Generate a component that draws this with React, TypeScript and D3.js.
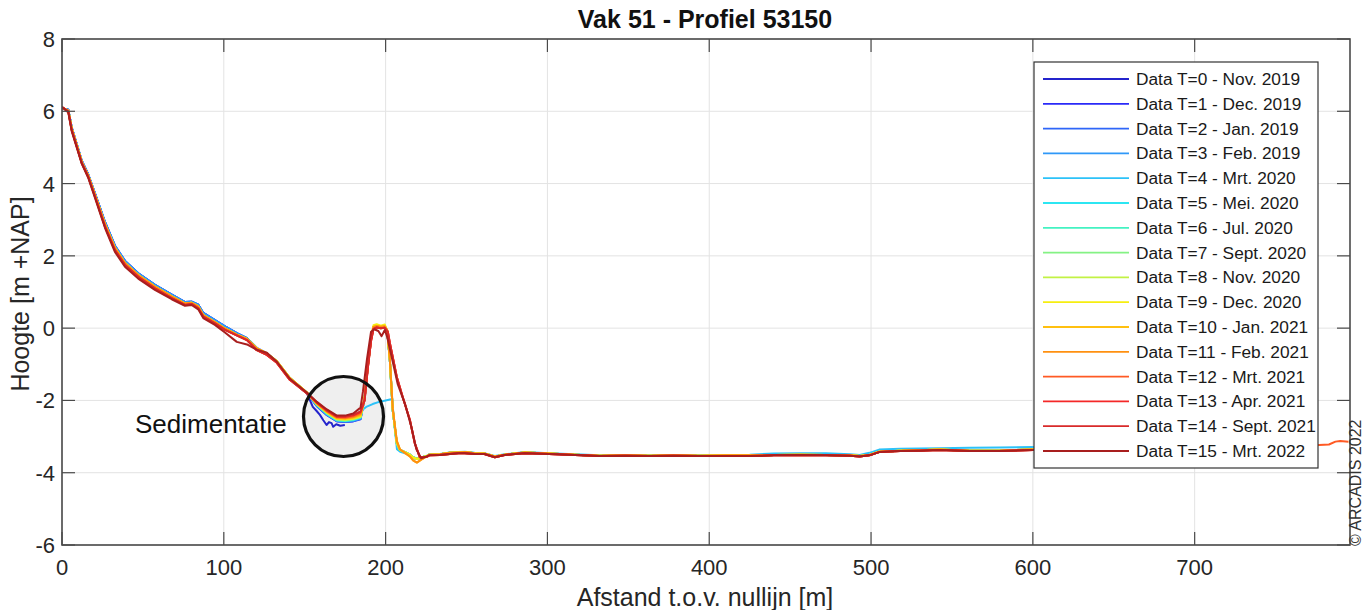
import React from "react";
import * as d3 from "d3";

const W = 1365;
const H = 610;
const PL = 62, PR = 1350, PT = 39, PB = 545;

const xDomain = [0, 796];
const yDomain = [-6, 8];
const xTicks = [0, 100, 200, 300, 400, 500, 600, 700];
const yTicks = [-6, -4, -2, 0, 2, 4, 6, 8];

const seriesLabels = [
  "Data T=0 - Nov. 2019",
  "Data T=1 - Dec. 2019",
  "Data T=2 - Jan. 2019",
  "Data T=3 - Feb. 2019",
  "Data T=4 - Mrt. 2020",
  "Data T=5 - Mei. 2020",
  "Data T=6 - Jul. 2020",
  "Data T=7 - Sept. 2020",
  "Data T=8 - Nov. 2020",
  "Data T=9 - Dec. 2020",
  "Data T=10 - Jan. 2021",
  "Data T=11 - Feb. 2021",
  "Data T=12 - Mrt. 2021",
  "Data T=13 - Apr. 2021",
  "Data T=14 - Sept. 2021",
  "Data T=15 - Mrt. 2022",
];
const seriesColors = [
  "#2424cc", "#2a2af8", "#2f66f8", "#2f98f8", "#2cc2f8", "#2ce6f2",
  "#44f2c2", "#84f284", "#c2f244", "#f6ee10", "#ffc010", "#ff9010",
  "#ff5a24", "#f42828", "#d82a2a", "#a81e1e",
];

// upper slope (shared distances)
const slopeX = [0, 3.9, 6, 12.2, 16.2, 20.4, 26.6, 32.7, 38.9, 47.1, 57.4, 67.8, 76, 80.1, 84.2, 87.3, 94.5, 100.7, 108, 114.3, 120.4, 126.6, 132.8, 140.8, 151.3];
const slopeEarlyY = [6.08, 6.04, 5.55, 4.63, 4.25, 3.72, 2.93, 2.28, 1.86, 1.52, 1.2, 0.93, 0.72, 0.73, 0.65, 0.42, 0.22, 0.05, -0.14, -0.28, -0.55, -0.7, -0.93, -1.4, -1.8];
const slopeMidY = [6.1, 6.02, 5.52, 4.6, 4.22, 3.68, 2.87, 2.22, 1.8, 1.47, 1.15, 0.88, 0.68, 0.7, 0.6, 0.36, 0.17, -0.01, -0.18, -0.3, -0.56, -0.7, -0.92, -1.38, -1.78];
const slopeLateY = [6.12, 5.99, 5.48, 4.57, 4.19, 3.64, 2.81, 2.16, 1.75, 1.42, 1.1, 0.83, 0.64, 0.67, 0.55, 0.32, 0.13, -0.05, -0.2, -0.33, -0.61, -0.74, -0.96, -1.43, -1.8];
const slopeT15Y = [6.12, 5.97, 5.45, 4.55, 4.16, 3.6, 2.77, 2.11, 1.7, 1.37, 1.06, 0.8, 0.62, 0.64, 0.52, 0.28, 0.09, -0.12, -0.38, -0.45, -0.6, -0.68, -0.93, -1.4, -1.78];

// T=0 ends in the sedimentation pit
const t0X = [155, 157.5, 159.4, 161.5, 163.5, 165, 166.6, 167.6, 169.5, 172, 174.8];
const t0Y = [-2.18, -2.3, -2.4, -2.55, -2.68, -2.6, -2.63, -2.73, -2.66, -2.7, -2.68];

// sedimentation pit, one row per series (T=1..T=15)
const troughX = [157.5, 163.7, 169.9, 175, 180, 184.5];
const troughY = [
  [],
  [-2.16, -2.41, -2.58, -2.6, -2.58, -2.52],
  [-2.15, -2.4, -2.57, -2.59, -2.57, -2.51],
  [-2.14, -2.39, -2.56, -2.58, -2.56, -2.5],
  [-2.13, -2.38, -2.55, -2.56, -2.48, -2.3],
  [-2.12, -2.37, -2.55, -2.57, -2.54, -2.48],
  [-2.12, -2.36, -2.54, -2.56, -2.53, -2.47],
  [-2.11, -2.35, -2.53, -2.55, -2.52, -2.46],
  [-2.1, -2.34, -2.52, -2.54, -2.51, -2.45],
  [-2.1, -2.33, -2.51, -2.52, -2.5, -2.43],
  [-2.09, -2.32, -2.5, -2.51, -2.48, -2.41],
  [-2.08, -2.31, -2.48, -2.49, -2.46, -2.38],
  [-2.07, -2.29, -2.46, -2.47, -2.43, -2.34],
  [-2.06, -2.28, -2.45, -2.45, -2.41, -2.32],
  [-2.05, -2.27, -2.44, -2.44, -2.4, -2.3],
  [-2.04, -2.25, -2.42, -2.42, -2.36, -2.2],
];

// dune peak
const peakX = [187, 189, 191, 192.5, 194.5, 197, 199.5];
const peakMidY = [-1.95, -1.05, -0.3, 0.03, 0.06, 0.04, 0.05];
const peakHighY = [-1.9, -1.0, -0.25, 0.08, 0.11, 0.07, 0.1];
const peakLateY = [-2.0, -1.1, -0.35, -0.02, 0.02, 0.0, 0.01];
const peakT15X = [186, 188.5, 191, 193, 195.5, 197.5, 199.5];
const peakT15Y = [-1.75, -0.85, -0.1, -0.03, -0.08, -0.22, -0.05];

// seaward fall of the dune
const fallFastX = [201, 202.6, 204.4, 206.9, 208.8, 211.9, 215, 217, 219.3, 222, 225.4];
const fallFastY = [-0.08, -0.88, -2.27, -3.18, -3.37, -3.43, -3.5, -3.58, -3.62, -3.58, -3.54];
const fallOrangeY = [-0.06, -0.85, -2.22, -3.12, -3.35, -3.45, -3.55, -3.66, -3.72, -3.64, -3.55];
const fallSlowX = [201.4, 202.6, 206.9, 210.6, 215, 218, 221.1, 225.4];
const fallSlowY = [-0.11, -0.41, -1.35, -1.91, -2.54, -3.18, -3.57, -3.56];
const fallT15X = [201, 203.5, 207.5, 212, 216, 219, 222, 225.4];
const fallT15Y = [-0.25, -0.75, -1.55, -2.1, -2.75, -3.35, -3.6, -3.55];

// T=4 has no dune
const t4MidX = [188, 192, 196, 200, 204, 205.5, 207, 209, 212, 216, 220, 225.4];
const t4MidY = [-2.18, -2.1, -2.04, -2.0, -1.96, -2.7, -3.35, -3.42, -3.46, -3.55, -3.62, -3.55];

// flat seabed
const flatX = [227, 233.5, 239.7, 245, 249, 255, 261, 267.5, 273.6, 280, 286, 301, 317, 332, 348, 363, 378, 394, 410, 425, 440, 456, 472, 487, 493, 499, 505, 518, 530, 542, 561, 579, 600, 612];
const flatLateY = [-3.52, -3.51, -3.48, -3.46, -3.46, -3.48, -3.48, -3.57, -3.51, -3.48, -3.46, -3.48, -3.51, -3.54, -3.53, -3.54, -3.53, -3.54, -3.54, -3.54, -3.52, -3.51, -3.52, -3.53, -3.55, -3.52, -3.43, -3.4, -3.39, -3.37, -3.4, -3.4, -3.37, -3.36];
const flatMidY = [-3.5, -3.49, -3.45, -3.44, -3.43, -3.46, -3.47, -3.55, -3.5, -3.47, -3.44, -3.47, -3.5, -3.53, -3.52, -3.53, -3.52, -3.53, -3.52, -3.52, -3.51, -3.5, -3.51, -3.52, -3.54, -3.51, -3.42, -3.39, -3.38, -3.36, -3.39, -3.39, -3.36, -3.35];
const flatT4Y = [-3.49, -3.48, -3.44, -3.43, -3.42, -3.45, -3.46, -3.54, -3.49, -3.46, -3.43, -3.46, -3.49, -3.52, -3.51, -3.52, -3.51, -3.52, -3.51, -3.5, -3.47, -3.46, -3.46, -3.49, -3.51, -3.45, -3.36, -3.34, -3.33, -3.32, -3.31, -3.3, -3.29, -3.28];

// T=12 continues to the end of the profile
const tailT12X = [630, 660, 700, 740, 770, 777, 783, 787, 790, 795];
const tailT12Y = [-3.35, -3.33, -3.31, -3.28, -3.25, -3.23, -3.22, -3.14, -3.12, -3.14];

type Seg = [number[], number[]];
const tr = (i: number): Seg => [troughX, troughY[i]];

const seriesSegments: Seg[][] = [
  [[slopeX, slopeEarlyY], [t0X, t0Y]],
  [[slopeX, slopeEarlyY], tr(1), [peakX, peakMidY], [fallFastX, fallFastY], [flatX, flatMidY]],
  [[slopeX, slopeEarlyY], tr(2), [peakX, peakMidY], [fallFastX, fallFastY], [flatX, flatMidY]],
  [[slopeX, slopeEarlyY], tr(3), [peakX, peakMidY], [fallFastX, fallFastY], [flatX, flatMidY]],
  [[slopeX, slopeMidY], tr(4), [t4MidX, t4MidY], [flatX, flatT4Y]],
  [[slopeX, slopeMidY], tr(5), [peakX, peakMidY], [fallFastX, fallFastY], [flatX, flatMidY]],
  [[slopeX, slopeMidY], tr(6), [peakX, peakMidY], [fallFastX, fallFastY], [flatX, flatMidY]],
  [[slopeX, slopeMidY], tr(7), [peakX, peakMidY], [fallFastX, fallFastY], [flatX, flatMidY]],
  [[slopeX, slopeMidY], tr(8), [peakX, peakMidY], [fallFastX, fallFastY], [flatX, flatMidY]],
  [[slopeX, slopeMidY], tr(9), [peakX, peakHighY], [fallFastX, fallFastY], [flatX, flatMidY]],
  [[slopeX, slopeMidY], tr(10), [peakX, peakMidY], [fallFastX, fallOrangeY], [flatX, flatMidY]],
  [[slopeX, slopeMidY], tr(11), [peakX, peakMidY], [fallFastX, fallOrangeY], [flatX, flatMidY]],
  [[slopeX, slopeLateY], tr(12), [peakX, peakLateY], [fallSlowX, fallSlowY], [flatX, flatLateY], [tailT12X, tailT12Y]],
  [[slopeX, slopeLateY], tr(13), [peakX, peakLateY], [fallSlowX, fallSlowY], [flatX, flatLateY]],
  [[slopeX, slopeLateY], tr(14), [peakX, peakLateY], [fallSlowX, fallSlowY], [flatX, flatLateY]],
  [[slopeX, slopeT15Y], tr(15), [peakT15X, peakT15Y], [fallT15X, fallT15Y], [flatX, flatLateY]],
];

function buildPoints(segs: Seg[]): [number, number][] {
  const out: [number, number][] = [];
  segs.forEach(([xs, ys]) => xs.forEach((x, i) => out.push([x, ys[i]])));
  return out;
}

const FONT = "'Liberation Sans', Arial, Helvetica, sans-serif";

export default function App() {
  const x = d3.scaleLinear().domain(xDomain).range([PL, PR]);
  const y = d3.scaleLinear().domain(yDomain).range([PB, PT]);
  const line = d3
    .line<[number, number]>()
    .x((d) => x(d[0]))
    .y((d) => y(d[1]));

  const tickLen = 13;
  const axisColor = "#4a4a4a";
  const textColor = "#262626";
  const legendTop = 79;
  const legendStep = 24.8;

  return (
    <svg
      width={W}
      height={H}
      style={{ position: "absolute", left: 0, top: 0, display: "block", background: "#fff" }}
      fontFamily={FONT}
    >
      <defs>
        <clipPath id="plotClip">
          <rect x={PL} y={PT} width={PR - PL} height={PB - PT} />
        </clipPath>
      </defs>
      <rect x={0} y={0} width={W} height={H} fill="#fff" />

      {/* grid */}
      {xTicks.map((t) => (
        <line key={"gx" + t} x1={x(t)} x2={x(t)} y1={PT} y2={PB} stroke="#e3e3e3" strokeWidth={1} />
      ))}
      {yTicks.map((t) => (
        <line key={"gy" + t} x1={PL} x2={PR} y1={y(t)} y2={y(t)} stroke="#e3e3e3" strokeWidth={1} />
      ))}

      {/* sedimentation circle fill */}
      <circle cx={343.5} cy={416.5} r={40} fill="#efefef" />

      {/* series */}
      <g clipPath="url(#plotClip)">
        {seriesSegments.map((segs, i) => (
          <path
            key={"s" + i}
            d={line(buildPoints(segs)) || ""}
            fill="none"
            stroke={seriesColors[i]}
            strokeWidth={2}
            strokeLinejoin="round"
          />
        ))}
      </g>

      {/* sedimentation circle outline */}
      <circle cx={343.5} cy={416.5} r={40} fill="none" stroke="#111" strokeWidth={3.2} />
      <text x={135} y={433} fontSize={26} fill="#111">Sedimentatie</text>

      {/* axes box and ticks */}
      <rect x={PL} y={PT} width={PR - PL} height={PB - PT} fill="none" stroke={axisColor} strokeWidth={1.6} />
      {xTicks.map((t) => (
        <g key={"tx" + t}>
          <line x1={x(t)} x2={x(t)} y1={PB} y2={PB - tickLen} stroke={axisColor} strokeWidth={1.2} />
          <line x1={x(t)} x2={x(t)} y1={PT} y2={PT + tickLen} stroke={axisColor} strokeWidth={1.2} />
          <text x={x(t)} y={575} fontSize={22} textAnchor="middle" fill={textColor}>
            {String(t)}
          </text>
        </g>
      ))}
      {yTicks.map((t) => (
        <g key={"ty" + t}>
          <line x1={PL} x2={PL + tickLen} y1={y(t)} y2={y(t)} stroke={axisColor} strokeWidth={1.2} />
          <line x1={PR} x2={PR - tickLen} y1={y(t)} y2={y(t)} stroke={axisColor} strokeWidth={1.2} />
          <text x={55} y={y(t) + 8} fontSize={22} textAnchor="end" fill={textColor}>
            {String(t)}
          </text>
        </g>
      ))}

      {/* titles */}
      <text x={705} y={28} fontSize={25} fontWeight="bold" textAnchor="middle" fill="#111">
        Vak 51 - Profiel 53150
      </text>
      <text x={705} y={606} fontSize={25} textAnchor="middle" fill={textColor}>
        Afstand t.o.v. nullijn [m]
      </text>
      <text
        transform={`translate(29, 294) rotate(-90)`}
        fontSize={25}
        textAnchor="middle"
        fill={textColor}
      >
        Hoogte [m +NAP]
      </text>

      {/* legend */}
      <rect x={1034} y={62} width={284} height={406} fill="#fff" stroke="#333" strokeWidth={1.2} />
      {seriesLabels.map((lab, i) => {
        const ly = legendTop + i * legendStep;
        return (
          <g key={"lg" + i}>
            <line x1={1043} x2={1129} y1={ly} y2={ly} stroke={seriesColors[i]} strokeWidth={1.8} />
            <text x={1136} y={ly + 6} fontSize={17.3} fill="#1a1a1a">
              {lab}
            </text>
          </g>
        );
      })}

      {/* copyright */}
      <text transform={`translate(1361, 546) rotate(-90)`} fontSize={16} fill="#333">
        © ARCADIS 2022
      </text>
    </svg>
  );
}
